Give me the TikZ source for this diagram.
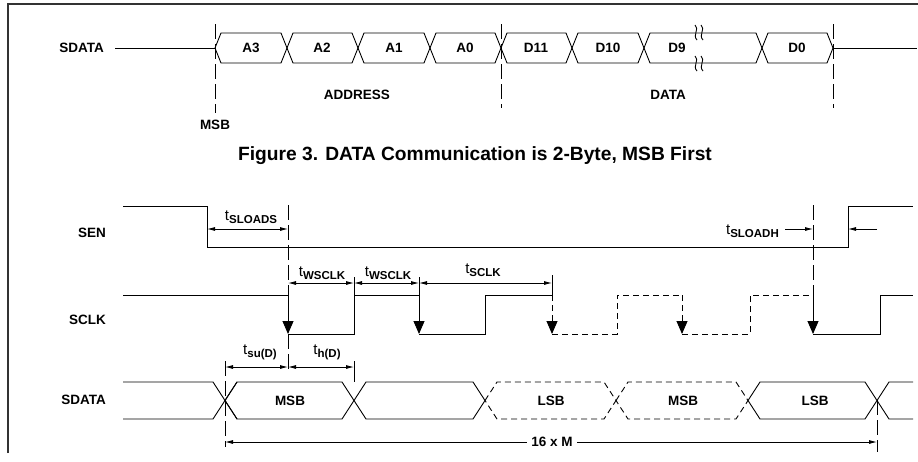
\documentclass[tikz,border=0pt]{standalone}
\usepackage{fontspec}
\setmainfont{Liberation Sans}
\usepackage{tikz}
\usetikzlibrary{arrows.meta}

\newcommand{\tname}[1]{{\fontsize{15}{15}\selectfont t}{\fontsize{11.5}{12}\selectfont\bfseries\raisebox{-3pt}{#1}}}

\begin{document}
\begin{tikzpicture}[x=1pt,y=-1pt,
		sig/.style={line width=0.9pt},
		dsig/.style={line width=0.9pt,dash pattern=on 6pt off 4pt},
		guide/.style={line width=0.8pt,dash pattern=on 15pt off 5pt},
		clkfall/.style={-{Triangle[length=13pt,width=11pt]}},
		dim/.style={line width=0.8pt,{Latex[length=8pt,width=4pt]}-{Latex[length=8pt,width=4pt]}},
		dimto/.style={line width=0.8pt,-{Latex[length=8pt,width=4pt]}},
		lbl/.style={font=\fontsize{13.5}{14}\selectfont\bfseries,inner sep=1pt}]
		\useasboundingbox (0,0) rectangle (918,461);
		\draw[line width=1.2pt,black!80] (8,453) -- (8,4) -- (918,4);
	% 2-byte frame
		\node[lbl,anchor=east] (sdata1) at (105,48) {SDATA};
		\draw[sig] (115,48) -- (215,48);
		\draw[sig] (833,48) -- (917,48);
		\foreach \a/\b in {215/287,287/358,358/430,430/501,501/572,572/644,644/762,762/833}
			\draw[sig] (\a,48) -- (\a+6,33) -- (\b-6,33) -- (\b,48) -- (\b-6,63) -- (\a+6,63) -- cycle;
		\foreach \x/\t/\n in {251/A3/a3,322/A2/a2,394/A1/a1,465/A0/a0,536/D11/d11,608/D10/d10,677/D9/d9,797/D0/d0}
			\node[lbl] (\n) at (\x,48) {\t};
		\foreach \x in {695,701}{
			\draw[sig] (\x,25) .. controls (\x+5,29) and (\x-3,35) .. (\x+2,40);
			\draw[sig] (\x,56) .. controls (\x+5,60) and (\x-3,66) .. (\x+2,71);
		}
		\draw[guide] (215,24) -- (215,113);
		\draw[guide] (501,24) -- (501,108);
		\draw[guide] (833,24) -- (833,108);
		\node[lbl] (msb) at (215,125) {MSB};
		\node[lbl] (addr) at (357,95) {ADDRESS};
		\node[lbl] (data) at (668,95) {DATA};
		\node[font=\fontsize{19.2}{20}\selectfont\bfseries] (cap) at (475,156) {Figure 3. DATA Communication is 2-Byte, MSB First};
	% SEN
		\node[lbl,anchor=east] (sen) at (107,233) {SEN};
		\draw[sig] (123,206) -- (207,206) -- (207,247) -- (848,247) -- (848,206) -- (913,206);
		\draw[guide] (288,205) -- (288,295);
		\draw[guide] (813,205) -- (813,295);
		\draw[dim] (207,229) -- (288,229);
		\node (tsloads) at (251,217) {\tname{SLOADS}};
		\node[anchor=east,inner sep=1pt] (tsloadh) at (780,231) {\tname{SLOADH}};
		\draw[dimto] (785,229) -- (813,229);
		\draw[dimto] (877,229) -- (848,229);
	% SCLK
		\node[lbl,anchor=east] (sclk) at (107,320) {SCLK};
		\draw[sig] (123,295) -- (288,295);
		\draw[sig] (288,334) -- (354,334) -- (354,295) -- (419,295);
		\draw[sig] (419,334) -- (485,334) -- (485,295) -- (552,295);
		\draw[dsig] (552,334) -- (617,334) -- (617,295) -- (682,295);
		\draw[dsig] (682,334) -- (750,334) -- (750,295) -- (813,295);
		\draw[sig] (813,334) -- (880,334) -- (880,295) -- (913,295);
		\foreach \x/\s in {288/sig,419/sig,552/dsig,682/dsig,813/sig}
			\draw[\s,clkfall] (\x,295) -- (\x,334);
		\draw[sig] (354,277) -- (354,295);
		\draw[sig] (419,277) -- (419,295);
		\draw[sig] (552,275) -- (552,295);
		\draw[dim] (288,283) -- (354,283);
		\draw[dim] (354,283) -- (419,283);
		\draw[dim] (419,283) -- (552,283);
		\node (twsclka) at (322,273) {\tname{WSCLK}};
		\node (twsclkb) at (388,273) {\tname{WSCLK}};
		\node (tsclk) at (483,270) {\tname{SCLK}};
	% SDATA
		\node[lbl,anchor=east] (sdata2) at (107,400) {SDATA};
		\draw[sig] (123,382) -- (213,382) -- (237,419);
		\draw[sig] (123,419) -- (213,419) -- (237,382);
		\foreach \a/\b/\s in {225/354/sig,354/485/sig,485/616/dsig,616/748/dsig,748/877/sig}
			\draw[\s] (\a,400.5) -- (\a+12,382) -- (\b-12,382) -- (\b,400.5) -- (\b-12,419) -- (\a+12,419) -- cycle;
		\draw[sig] (877,400.5) -- (889,382) -- (913,382);
		\draw[sig] (877,400.5) -- (889,419) -- (913,419);
		\foreach \x/\t/\n in {290/MSB/msba,551/LSB/lsba,683/MSB/msbb,815/LSB/lsbb}
			\node[lbl] (\n) at (\x,400.5) {\t};
		\draw[guide] (288,334) -- (288,373);
		\draw[guide] (225,361) -- (225,447);
		\draw[guide] (877,400) -- (877,452);
		\draw[sig] (354,361) -- (354,382);
		\draw[dim] (225,367) -- (288,367);
		\draw[dim] (288,367) -- (354,367);
		\node (tsu) at (260,352) {\tname{su(D)}};
		\node (th) at (327,352) {\tname{h(D)}};
		\draw[dim] (225,442) -- (877,442);
		\node[lbl,fill=white,inner sep=4pt] (span) at (552,442) {16 x M};
	% serial write timing
	\end{tikzpicture}
\end{document}
